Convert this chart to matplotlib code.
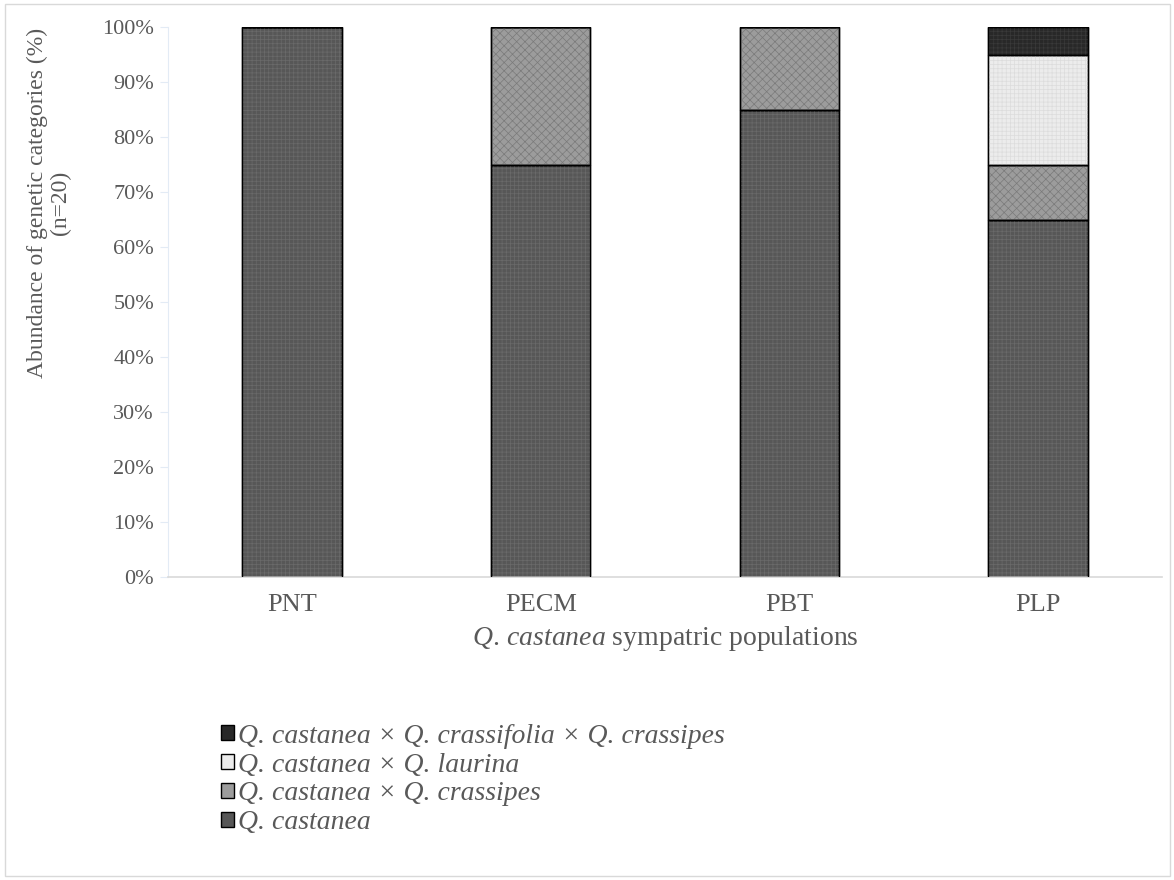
import numpy as np
import matplotlib
matplotlib.use("Agg")
import matplotlib.pyplot as plt
from matplotlib.patches import Rectangle

populations = ["PNT", "PECM", "PBT", "PLP"]
castanea = [100, 75, 85, 65]
castanea_x_crassipes = [0, 25, 15, 10]
castanea_x_laurina = [0, 0, 0, 20]
castanea_x_crassifolia_x_crassipes = [0, 0, 0, 5]

series = [
    ("Q. castanea", castanea, "#575757", "++++", "#6a6a6a"),
    ("Q. castanea × Q. crassipes", castanea_x_crassipes, "#9c9c9c", "xxxx", "#7a7a7a"),
    ("Q. castanea × Q. laurina", castanea_x_laurina, "#ececec", "++++", "#dcdcdc"),
    ("Q. castanea × Q. crassifolia × Q. crassipes", castanea_x_crassifolia_x_crassipes,
     "#282828", "++++", "#3a3a3a"),
]

plt.rcParams["font.family"] = ["Liberation Serif", "DejaVu Serif"]
plt.rcParams["mathtext.fontset"] = "custom"
plt.rcParams["mathtext.it"] = "Liberation Serif:italic"
plt.rcParams["mathtext.rm"] = "Liberation Serif"
plt.rcParams["hatch.linewidth"] = 0.5
txt = "#595959"

fig = plt.figure(figsize=(11.74, 8.8), dpi=100)
ax = fig.add_axes([0.143, 0.344, 0.847, 0.625])

x = np.arange(len(populations))
bottom = np.zeros(len(populations))
handles = []
for label, vals, fc, hatch, hc in series:
    vals = np.array(vals, dtype=float)
    b = ax.bar(x, vals, 0.4, bottom=bottom, color=fc, edgecolor="black", linewidth=1.0,
               label=label, zorder=2)
    # fine texture on top of the flat fill, then the black outline again
    ax.bar(x, vals, 0.4, bottom=bottom, fill=False, hatch=hatch, edgecolor=hc,
           linewidth=0, zorder=2.5)
    ax.bar(x, vals, 0.4, bottom=bottom, fill=False, edgecolor="black", linewidth=1.0,
           zorder=3)
    handles.append(b)
    bottom += vals

ax.set_xlim(-0.5, len(populations) - 0.5)
ax.set_ylim(0, 100)
ax.set_yticks(np.arange(0, 101, 10))
ax.set_yticklabels([f"{v}%" for v in range(0, 101, 10)], fontsize=16, color=txt)
ax.set_xticks(x)
ax.set_xticklabels(populations, fontsize=19, color=txt)
ax.tick_params(axis="x", length=0, pad=12)
ax.tick_params(axis="y", length=6, color="#e3ebf5", pad=4)
for s in ("top", "right"):
    ax.spines[s].set_visible(False)
ax.spines["left"].set_color("#e3ebf5")
ax.spines["bottom"].set_color("#d9d9d9")
ax.spines["bottom"].set_linewidth(1.2)

ax.set_xlabel(r"$\it{Q.\,castanea}$ sympatric populations", fontsize=20, color=txt,
              labelpad=6)
ax.set_ylabel("Abundance of genetic categories (%)\n(n=20)", fontsize=17, color=txt,
              linespacing=1.15)
ax.yaxis.set_label_coords(-0.097, 0.68)

leg = fig.legend(handles[::-1], [s[0] for s in series][::-1], loc="upper left",
                 bbox_to_anchor=(0.167, 0.206), frameon=False, handlelength=0.45,
                 handleheight=0.45, handletextpad=0.15, labelspacing=0.14,
                 prop={"family": "Liberation Serif", "style": "italic", "size": 20})
for t in leg.get_texts():
    t.set_color(txt)

fig.patches.append(Rectangle((0.004, 0.005), 0.993, 0.99, transform=fig.transFigure,
                             fill=False, edgecolor="#d9d9d9", linewidth=1))

fig.savefig("out.png", dpi=100)
